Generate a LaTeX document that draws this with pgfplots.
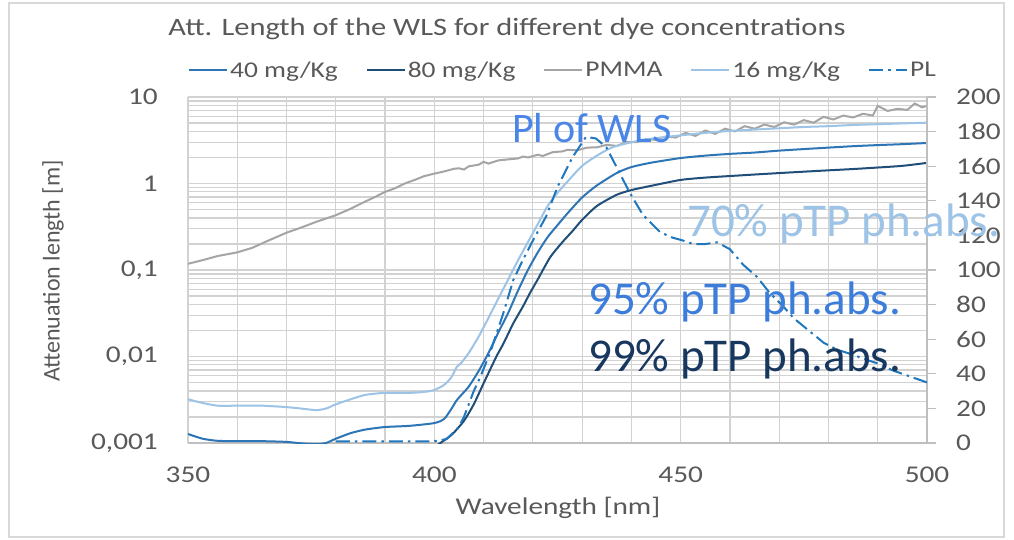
\documentclass[border=0pt]{standalone}
\usepackage{fontspec}
\setmainfont{Carlito}[FakeStretch=1.22]
\newfontfamily\plainfont{Carlito}
\usepackage{pgfplots}
\pgfplotsset{compat=1.18}
\definecolor{c40}{RGB}{46,117,182}
\definecolor{c80}{RGB}{31,78,121}
\definecolor{cPM}{RGB}{165,165,165}
\definecolor{c16}{RGB}{157,195,230}
\definecolor{cPL}{RGB}{31,119,190}
\definecolor{gridc}{RGB}{210,210,210}
\definecolor{axc}{RGB}{191,191,191}
\definecolor{tickc}{RGB}{89,89,89}
\definecolor{frame}{RGB}{217,217,217}
\definecolor{tPL}{RGB}{74,134,232}
\definecolor{t70}{RGB}{157,195,230}
\definecolor{t95}{RGB}{60,125,220}
\definecolor{t99}{RGB}{23,55,94}
\begin{document}
\begin{tikzpicture}[x=1pt,y=1pt]
\useasboundingbox (0,0) rectangle (1014,540);
\fill[white] (0,0) rectangle (1014,540);
\draw[draw=frame, line width=1.5pt] (9,3) rectangle (1004,537);
\begin{axis}[
 at={(188pt,97pt)}, anchor=south west, width=739pt, height=346pt, scale only axis,
 ymode=log, log basis y=10, xmin=350, xmax=500, ymin=0.001, ymax=10,
 xtick={350,400,450,500}, xticklabels={350,400,450,500},
 minor xtick={360,370,380,390,410,420,430,440,460,470,480,490},
 ytick={0.001,0.01,0.1,1,10}, yticklabels={{0,001},{0,01},{0,1},1,10},
 minor ytick={0.002,0.003,0.004,0.005,0.006,0.007,0.008,0.009,
   0.02,0.03,0.04,0.05,0.06,0.07,0.08,0.09,
   0.2,0.3,0.4,0.5,0.6,0.7,0.8,0.9,
   2,3,4,5,6,7,8,9},
 grid=both,
 major grid style={draw=gridc, line width=1.2pt},
 minor grid style={draw=gridc, line width=1.2pt},
 major tick length=0pt, minor tick length=0pt,
 axis x line*=bottom, axis y line*=left,
 x axis line style={draw=axc, line width=1.3pt, -},
 y axis line style={draw=none, -},
 ticklabel style={font=\fontsize{24}{29}\selectfont, text=tickc, inner sep=0pt},
 xticklabel style={anchor=north, yshift=-24pt},
 yticklabel style={anchor=east, xshift=-30pt},
 legend columns=5,
 legend style={at={(0.5074,1.078)}, anchor=center, draw=none, fill=none,
   font=\fontsize{22.5}{27}\selectfont, text=tickc,
   /tikz/every even column/.append style={column sep=26pt}},
 legend image code/.code={\draw[#1] (0pt,0pt) -- (38pt,0pt);},
]
\addplot[c40, line width=2pt, smooth, tension=0.4] coordinates {
(350,0.00127)(353,0.00112)(356,0.00106)(360,0.00105)(365,0.00105)(370,0.00103)(373,0.00099)(376,0.00097)(378,0.00100)(380,0.00112)(383,0.0013)(386,0.00143)(390,0.00153)(395,0.00158)(400,0.0017)(402,0.0019)(403.5,0.0025)(404.5,0.0031)(405.5,0.0036)(407,0.0045)(409,0.0068)(411,0.011)(413,0.019)(415,0.032)(417,0.058)(419,0.10)(421,0.16)(423,0.24)(425,0.33)(427,0.45)(430,0.69)(433,0.95)(437,1.32)(440,1.55)(444,1.74)(450,1.97)(455,2.1)(460,2.2)(465,2.28)(470,2.4)(475,2.5)(480,2.6)(485,2.7)(490,2.78)(495,2.85)(500,2.94)};
\addlegendentry{40 mg/Kg}
\addplot[c80, line width=2pt, smooth, tension=0.4] coordinates {
(396,0.0006)(399,0.0008)(401,0.00098)(403.5,0.00124)(406,0.0018)(408,0.0028)(410,0.0049)(412.6,0.010)(414,0.014)(416,0.024)(418,0.038)(419.4,0.054)(421,0.078)(423.5,0.14)(426,0.21)(428,0.28)(430,0.38)(433,0.55)(437,0.74)(440,0.84)(444,0.94)(450,1.10)(455,1.17)(460,1.22)(465,1.27)(470,1.32)(475,1.37)(480,1.42)(485,1.47)(490,1.53)(495,1.6)(500,1.73)};
\addlegendentry{80 mg/Kg}
\addplot[cPM, line width=2pt] coordinates {
(350,0.118)(353,0.13)(356,0.145)(360,0.16)(363,0.18)(366,0.215)(370,0.27)(373,0.31)(376,0.36)(380,0.43)(383,0.51)(386,0.62)(388,0.70)(390,0.80)(392,0.88)(394,1.0)(396,1.1)(398,1.22)(400,1.3)(402,1.38)(404,1.48)(405,1.5)(406,1.45)(407,1.58)(409,1.65)(410,1.78)(411,1.7)(413,1.85)(415,1.9)(417,1.95)(418,2.05)(419,2.0)(421,2.15)(422,2.08)(424,2.3)(426,2.35)(427,2.45)(429,2.42)(431,2.6)(433,2.62)(435,2.8)(437,2.72)(439,3.0)(441,3.0)(443,3.25)(445,3.2)(447,3.5)(449,3.4)(451,3.85)(453,3.55)(455,4.1)(457,3.75)(459,4.3)(461,4.0)(463,4.6)(465,4.3)(467,4.8)(469,4.5)(471,5.1)(473,4.8)(475,5.4)(477,5.05)(479,5.9)(481,5.5)(483,6.1)(485,5.8)(487,6.4)(489,6.1)(490,7.9)(492,6.9)(494,7.3)(496,7.1)(497.5,8.4)(499,7.6)(500,7.9)};
\addlegendentry{PMMA}
\addplot[c16, line width=2pt, smooth, tension=0.4] coordinates {
(350,0.0032)(353,0.0029)(356,0.0027)(360,0.0027)(365,0.0027)(370,0.0026)(373,0.0025)(376,0.0024)(378,0.0025)(380,0.0028)(383,0.0032)(386,0.0036)(390,0.0038)(395,0.0038)(398,0.0039)(400,0.0041)(402,0.0047)(403.5,0.0058)(404.5,0.0075)(405.5,0.0085)(407,0.011)(409,0.017)(411,0.028)(413,0.047)(415,0.078)(417,0.13)(419,0.21)(421,0.34)(423,0.55)(425,0.78)(427,1.05)(430,1.6)(433,2.1)(436,2.6)(440,3.0)(444,3.3)(450,3.6)(455,3.85)(460,4.05)(465,4.2)(470,4.35)(475,4.5)(480,4.6)(485,4.75)(490,4.85)(495,4.95)(500,5.05)};
\addlegendentry{16 mg/Kg}
\addlegendimage{cPL, line width=2pt, dash pattern=on 14pt off 5pt on 2.5pt off 5pt}
\addlegendentry{PL}
\end{axis}
\begin{axis}[
 at={(188pt,97pt)}, anchor=south west, width=739pt, height=346pt, scale only axis,
 xmin=350, xmax=500, ymin=0, ymax=200,
 axis x line=none, axis y line*=right,
 y axis line style={draw=axc, line width=1.3pt, -},
 ytick={0,20,40,60,80,100,120,140,160,180,200},
 yticklabels={0,20,40,60,80,100,120,140,160,180,200},
 tick align=outside, major tick length=9pt, minor tick length=0pt,
 major tick style={draw=axc, line width=1.3pt},
 yticklabel style={anchor=west, font=\fontsize{24}{29}\selectfont, text=tickc, inner sep=0pt, xshift=20pt},
]
\addplot[cPL, line width=2pt, dash pattern=on 14pt off 5pt on 2.5pt off 5pt] coordinates {
(380,1)(385,1)(390,1)(395,1)(400,1)(402.5,2.3)(404.9,9)(406,15)(408,30)(409.3,38)(411.3,52)(414,75)(416,94)(418,106)(420,117)(422.7,131)(425,148)(428,165)(430.8,177)(432.8,176)(434.9,171)(436.9,160)(439.6,145)(442.3,132)(445.8,122)(448,119)(450.5,117)(452.5,115)(455,115)(457.4,116)(460,112)(462.7,103)(465.5,96)(468,87)(470.8,79)(473,72)(476,65)(479,58)(481.7,54)(485,51)(487.8,48)(490,46)(493,42)(496,39)(500,35)};
\end{axis}
\node[anchor=base, inner sep=0pt, text=tickc, font=\fontsize{25}{30}\selectfont] at (507,504) {Att. Length of the WLS for different dye concentrations};
\node[anchor=base, inner sep=0pt, text=tickc, font=\fontsize{24}{29}\selectfont] at (558,25) {Wavelength [nm]};
\node[rotate=90, anchor=center, inner sep=0pt, text=tickc, font=\plainfont\fontsize{24}{29}\selectfont] at (53,269) {Attenuation length [m]};
\node[anchor=base west, inner sep=0pt, text=tPL, font=\plainfont\fontsize{42}{50}\selectfont] at (512,397) {Pl of WLS};
\node[anchor=base west, inner sep=0pt, text=t70, font=\plainfont\fontsize{47}{56}\selectfont] at (687,303) {70\% pTP ph.abs.};
\node[anchor=base west, inner sep=0pt, text=t95, font=\plainfont\fontsize{47}{56}\selectfont] at (588,225) {95\% pTP ph.abs.};
\node[anchor=base west, inner sep=0pt, text=t99, font=\plainfont\fontsize{47}{56}\selectfont] at (588,168) {99\% pTP ph.abs.};
\end{tikzpicture}
\end{document}
